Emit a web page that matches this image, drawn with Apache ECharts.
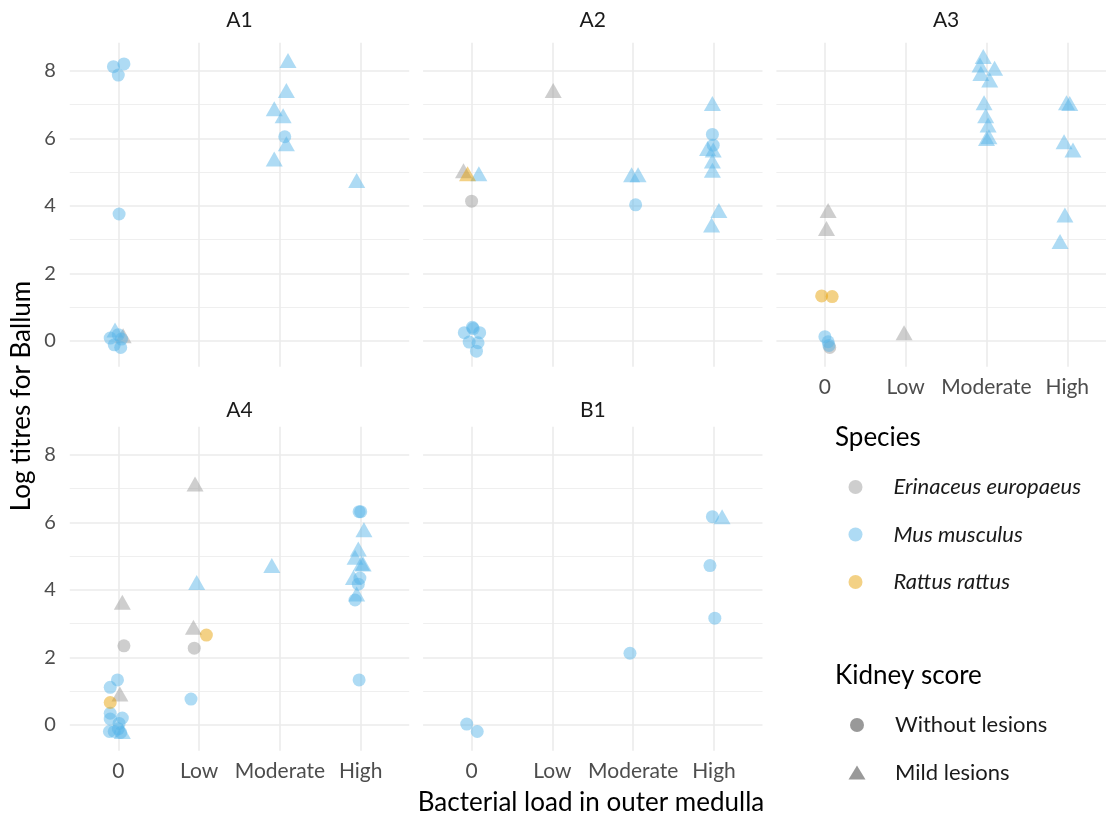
<!DOCTYPE html>
<html>
<head>
<meta charset="utf-8">
<script src="https://cdn.jsdelivr.net/npm/echarts@6/dist/echarts.min.js"></script>
<style>
  html, body { margin: 0; padding: 0; background: #ffffff; }
  #chart { width: 1106px; height: 816px; }
</style>
</head>
<body>
<div id="chart"></div>
<script>
// Bacterial load categories (x) and titre tick values (y)
const loadLevels = ['0', 'Low', 'Moderate', 'High'];
const titreTicks = [0, 2, 4, 6, 8];
const titreMinorTicks = [1, 3, 5, 7];

const speciesNames = { E: 'Erinaceus europaeus', M: 'Mus musculus', R: 'Rattus rattus' };
const kidneyNames = { W: 'Without lesions', L: 'Mild lesions' };

// Each row: [bacterial load, horizontal jitter, log titre, species, kidney score]
const panelA1 = [
  ['0', -0.06, 8.13, 'M', 'W'], ['0', 0.07, 8.21, 'M', 'W'], ['0', 0.00, 7.88, 'M', 'W'],
  ['0', 0.01, 3.76, 'M', 'W'], ['0', -0.04, 0.32, 'M', 'L'], ['0', 0.06, 0.15, 'E', 'L'],
  ['0', -0.10, 0.08, 'M', 'W'], ['0', -0.05, -0.12, 'M', 'W'], ['0', 0.03, -0.20, 'M', 'W'],
  ['0', 0.00, 0.18, 'M', 'W'], ['0', 0.04, 0.05, 'M', 'W'],
  ['Moderate', 0.10, 8.31, 'M', 'L'], ['Moderate', 0.08, 7.42, 'M', 'L'],
  ['Moderate', -0.07, 6.88, 'M', 'L'], ['Moderate', 0.04, 6.67, 'M', 'L'],
  ['Moderate', 0.06, 6.05, 'M', 'W'], ['Moderate', 0.08, 5.84, 'M', 'L'],
  ['Moderate', -0.07, 5.39, 'M', 'L'],
  ['High', -0.05, 4.75, 'M', 'L']
];
const panelA2 = [
  ['0', -0.10, 5.04, 'E', 'L'], ['0', -0.05, 4.95, 'R', 'L'], ['0', 0.09, 4.95, 'M', 'L'],
  ['0', 0.00, 4.14, 'E', 'W'], ['0', 0.01, 0.40, 'M', 'W'], ['0', 0.02, 0.36, 'M', 'W'],
  ['0', -0.09, 0.24, 'M', 'W'], ['0', 0.10, 0.24, 'M', 'W'], ['0', -0.03, -0.04, 'M', 'W'],
  ['0', 0.08, -0.06, 'M', 'W'], ['0', 0.06, -0.31, 'M', 'W'],
  ['Low', 0.01, 7.42, 'E', 'L'],
  ['Moderate', -0.02, 4.92, 'M', 'L'], ['Moderate', 0.06, 4.92, 'M', 'L'],
  ['Moderate', 0.03, 4.03, 'M', 'W'],
  ['High', -0.02, 7.04, 'M', 'L'], ['High', -0.02, 6.12, 'M', 'W'], ['High', -0.01, 5.80, 'M', 'W'],
  ['High', -0.08, 5.70, 'M', 'L'], ['High', -0.01, 5.66, 'M', 'L'], ['High', -0.02, 5.33, 'M', 'L'],
  ['High', -0.02, 5.06, 'M', 'L'], ['High', 0.06, 3.86, 'M', 'L'], ['High', -0.03, 3.43, 'M', 'L']
];
const panelA3 = [
  ['0', 0.04, 3.86, 'E', 'L'], ['0', 0.02, 3.33, 'E', 'L'], ['0', -0.04, 1.33, 'R', 'W'],
  ['0', 0.09, 1.31, 'R', 'W'], ['0', 0.00, 0.12, 'M', 'W'], ['0', 0.04, -0.03, 'M', 'W'],
  ['0', 0.06, -0.20, 'E', 'W'], ['0', 0.05, -0.14, 'M', 'W'],
  ['Low', -0.02, 0.24, 'E', 'L'],
  ['Moderate', -0.04, 8.43, 'M', 'L'], ['Moderate', -0.08, 8.18, 'M', 'L'],
  ['Moderate', 0.10, 8.08, 'M', 'L'], ['Moderate', -0.07, 7.93, 'M', 'L'],
  ['Moderate', 0.04, 7.73, 'M', 'L'], ['Moderate', -0.03, 7.06, 'M', 'L'],
  ['Moderate', -0.01, 6.67, 'M', 'L'], ['Moderate', 0.02, 6.40, 'M', 'L'],
  ['Moderate', 0.03, 6.05, 'M', 'L'], ['Moderate', 0.00, 6.00, 'M', 'L'],
  ['High', -0.01, 7.06, 'M', 'L'], ['High', 0.03, 7.04, 'M', 'L'], ['High', -0.04, 5.90, 'M', 'L'],
  ['High', 0.07, 5.66, 'M', 'L'], ['High', -0.03, 3.73, 'M', 'L'], ['High', -0.09, 2.94, 'M', 'L']
];
const panelA4 = [
  ['0', 0.05, 3.63, 'E', 'L'], ['0', 0.07, 2.34, 'E', 'W'], ['0', 0.02, 0.91, 'E', 'L'],
  ['0', -0.10, 0.66, 'R', 'W'], ['0', -0.01, 1.33, 'M', 'W'], ['0', -0.10, 1.11, 'M', 'W'],
  ['0', -0.10, 0.34, 'M', 'W'], ['0', -0.10, 0.17, 'M', 'W'], ['0', 0.05, 0.20, 'M', 'W'],
  ['0', 0.01, 0.04, 'M', 'W'], ['0', -0.11, -0.20, 'M', 'W'], ['0', -0.05, -0.20, 'M', 'W'],
  ['0', 0.03, -0.23, 'M', 'W'], ['0', 0.05, -0.20, 'M', 'L'], ['0', 0.00, -0.12, 'M', 'W'],
  ['Low', -0.05, 7.14, 'E', 'L'], ['Low', -0.03, 4.22, 'M', 'L'], ['Low', -0.07, 2.89, 'E', 'L'],
  ['Low', -0.06, 2.27, 'E', 'W'], ['Low', 0.09, 2.66, 'R', 'W'], ['Low', -0.10, 0.76, 'M', 'W'],
  ['Moderate', -0.10, 4.72, 'M', 'L'],
  ['High', -0.02, 6.32, 'M', 'W'], ['High', 0.00, 6.32, 'M', 'W'], ['High', 0.04, 5.78, 'M', 'L'],
  ['High', -0.03, 5.21, 'M', 'L'], ['High', -0.07, 4.97, 'M', 'L'], ['High', 0.01, 4.79, 'M', 'L'],
  ['High', 0.03, 4.77, 'M', 'L'], ['High', -0.01, 4.35, 'M', 'W'], ['High', -0.03, 4.17, 'M', 'W'],
  ['High', -0.09, 4.37, 'M', 'L'], ['High', -0.05, 3.88, 'M', 'L'], ['High', -0.07, 3.70, 'M', 'W'],
  ['High', -0.02, 1.33, 'M', 'W']
];
const panelB1 = [
  ['0', -0.06, 0.02, 'M', 'W'], ['0', 0.07, -0.20, 'M', 'W'],
  ['Moderate', -0.04, 2.12, 'M', 'W'],
  ['High', -0.02, 6.17, 'M', 'W'], ['High', 0.10, 6.17, 'M', 'L'],
  ['High', -0.05, 4.72, 'M', 'W'], ['High', 0.01, 3.16, 'M', 'W']
];

const panelNames = ['A1', 'A2', 'A3', 'A4', 'B1'];
const panelRows = [panelA1, panelA2, panelA3, panelA4, panelB1];

// ---- styling ----
const FONT = 'Lato';
const speciesColors = {
  E: 'rgba(153,153,153,0.6)',
  M: 'rgba(86,180,233,0.6)',
  R: 'rgba(230,159,0,0.6)'
};
const shapeKeyColor = 'rgba(0,0,0,0.5)';
const GRID_COLOR = '#EBEBEB';

// facet geometry
const colLeft = [69.8, 423.1, 776.4];
const rowTop = [42.7, 426.7];
const panelW = 339.4, panelH = 324;
const panelPos = [[0, 0], [1, 0], [2, 0], [0, 1], [1, 1]];
const showYLabels = [true, false, false, true, false];
const showXLabels = [false, false, true, true, true];

const grids = [], xAxes = [], yAxes = [], series = [];

panelNames.forEach((name, p) => {
  const [c, r] = panelPos[p];
  grids.push({ left: colLeft[c], top: rowTop[r], width: panelW, height: panelH, outerBoundsMode: 'none' });
  xAxes.push({
    type: 'value', gridIndex: p, min: 0.4, max: 4.6,
    axisLine: { show: false },
    axisTick: { show: false, customValues: [1, 2, 3, 4] },
    axisLabel: {
      show: showXLabels[p], customValues: [1, 2, 3, 4], margin: 10,
      formatter: v => loadLevels[Math.round(v) - 1],
      fontFamily: FONT, fontSize: 21, color: '#4D4D4D'
    },
    splitLine: { show: true, lineStyle: { color: GRID_COLOR, width: 1.6 } }
  });
  yAxes.push({
    type: 'value', gridIndex: p, min: -0.77, max: 8.84,
    axisLine: { show: false },
    axisTick: { show: false, customValues: titreTicks },
    axisLabel: {
      show: showYLabels[p], customValues: titreTicks, margin: 14,
      fontFamily: FONT, fontSize: 20, color: '#4D4D4D'
    },
    splitLine: { show: true, lineStyle: { color: GRID_COLOR, width: 1.6 } }
  });
  yAxes.push({
    type: 'value', gridIndex: p, min: -0.77, max: 8.84,
    axisLine: { show: false },
    axisTick: { show: false, customValues: titreMinorTicks },
    axisLabel: { show: false, customValues: titreMinorTicks },
    splitLine: { show: true, lineStyle: { color: GRID_COLOR, width: 0.8 } }
  });

  ['E', 'M', 'R'].forEach(sp => {
    const pts = panelRows[p].filter(row => row[3] === sp).map(row => {
      const isTri = row[4] === 'L';
      return {
        value: [loadLevels.indexOf(row[0]) + 1 + row[1], row[2]],
        symbol: isTri ? 'triangle' : 'circle',
        symbolSize: isTri ? [17, 15] : 13
      };
    });
    if (!pts.length) return;
    series.push({
      type: 'scatter', name: speciesNames[sp],
      xAxisIndex: p, yAxisIndex: 2 * p,
      data: pts,
      itemStyle: { color: speciesColors[sp] },
      emphasis: { disabled: true },
      silent: true,
      z: 3
    });
  });
});

// kidney-score keys for the shape legend
series.push(
  { type: 'scatter', name: kidneyNames.W, xAxisIndex: 0, yAxisIndex: 0, data: [], symbol: 'circle',
    itemStyle: { color: shapeKeyColor } },
  { type: 'scatter', name: kidneyNames.L, xAxisIndex: 0, yAxisIndex: 0, data: [], symbol: 'triangle',
    itemStyle: { color: shapeKeyColor } }
);

const textGraphic = (text, x, y, size, color, align, rotation) => ({
  type: 'text', x: x, y: y, rotation: rotation || 0,
  style: {
    text: text, fill: color, font: `${size}px ${FONT}`,
    textAlign: align || 'center', textVerticalAlign: 'middle'
  },
  silent: true
});

const graphics = [];
panelNames.forEach((name, p) => {
  const [c, r] = panelPos[p];
  graphics.push(textGraphic(name, colLeft[c] + panelW / 2, r === 0 ? 20 : 410, 21, '#1A1A1A'));
});
graphics.push(textGraphic('Log titres for Ballum', 22, 396, 26, '#000000', 'center', Math.PI / 2));
graphics.push(textGraphic('Bacterial load in outer medulla', 591, 803, 26, '#000000'));
graphics.push(textGraphic('Species', 835, 438, 26, '#000000', 'left'));
graphics.push(textGraphic('Kidney score', 835, 676, 26, '#000000', 'left'));

const legendBase = {
  orient: 'vertical', left: 848.5, padding: 0,
  itemWidth: 17, itemHeight: 14, itemGap: 25.5,
  selectedMode: false,
  textStyle: { fontFamily: FONT, fontSize: 22, color: '#1A1A1A', padding: [0, 0, 0, 24.5] }
};

const option = {
  backgroundColor: '#ffffff',
  animation: false,
  grid: grids,
  xAxis: xAxes,
  yAxis: yAxes,
  series: series,
  legend: [
    Object.assign({}, legendBase, {
      top: 476,
      textStyle: Object.assign({}, legendBase.textStyle, { fontStyle: 'italic' }),
      data: ['E', 'M', 'R'].map(sp => ({ name: speciesNames[sp], icon: 'circle', itemStyle: { color: speciesColors[sp] } }))
    }),
    Object.assign({}, legendBase, {
      top: 714,
      data: [
        { name: kidneyNames.W, icon: 'circle', itemStyle: { color: shapeKeyColor } },
        { name: kidneyNames.L, icon: 'triangle', itemStyle: { color: shapeKeyColor } }
      ]
    })
  ],
  graphic: graphics
};

const chart = echarts.init(document.getElementById('chart'), null, { renderer: 'canvas' });
chart.setOption(option);
</script>
</body>
</html>
